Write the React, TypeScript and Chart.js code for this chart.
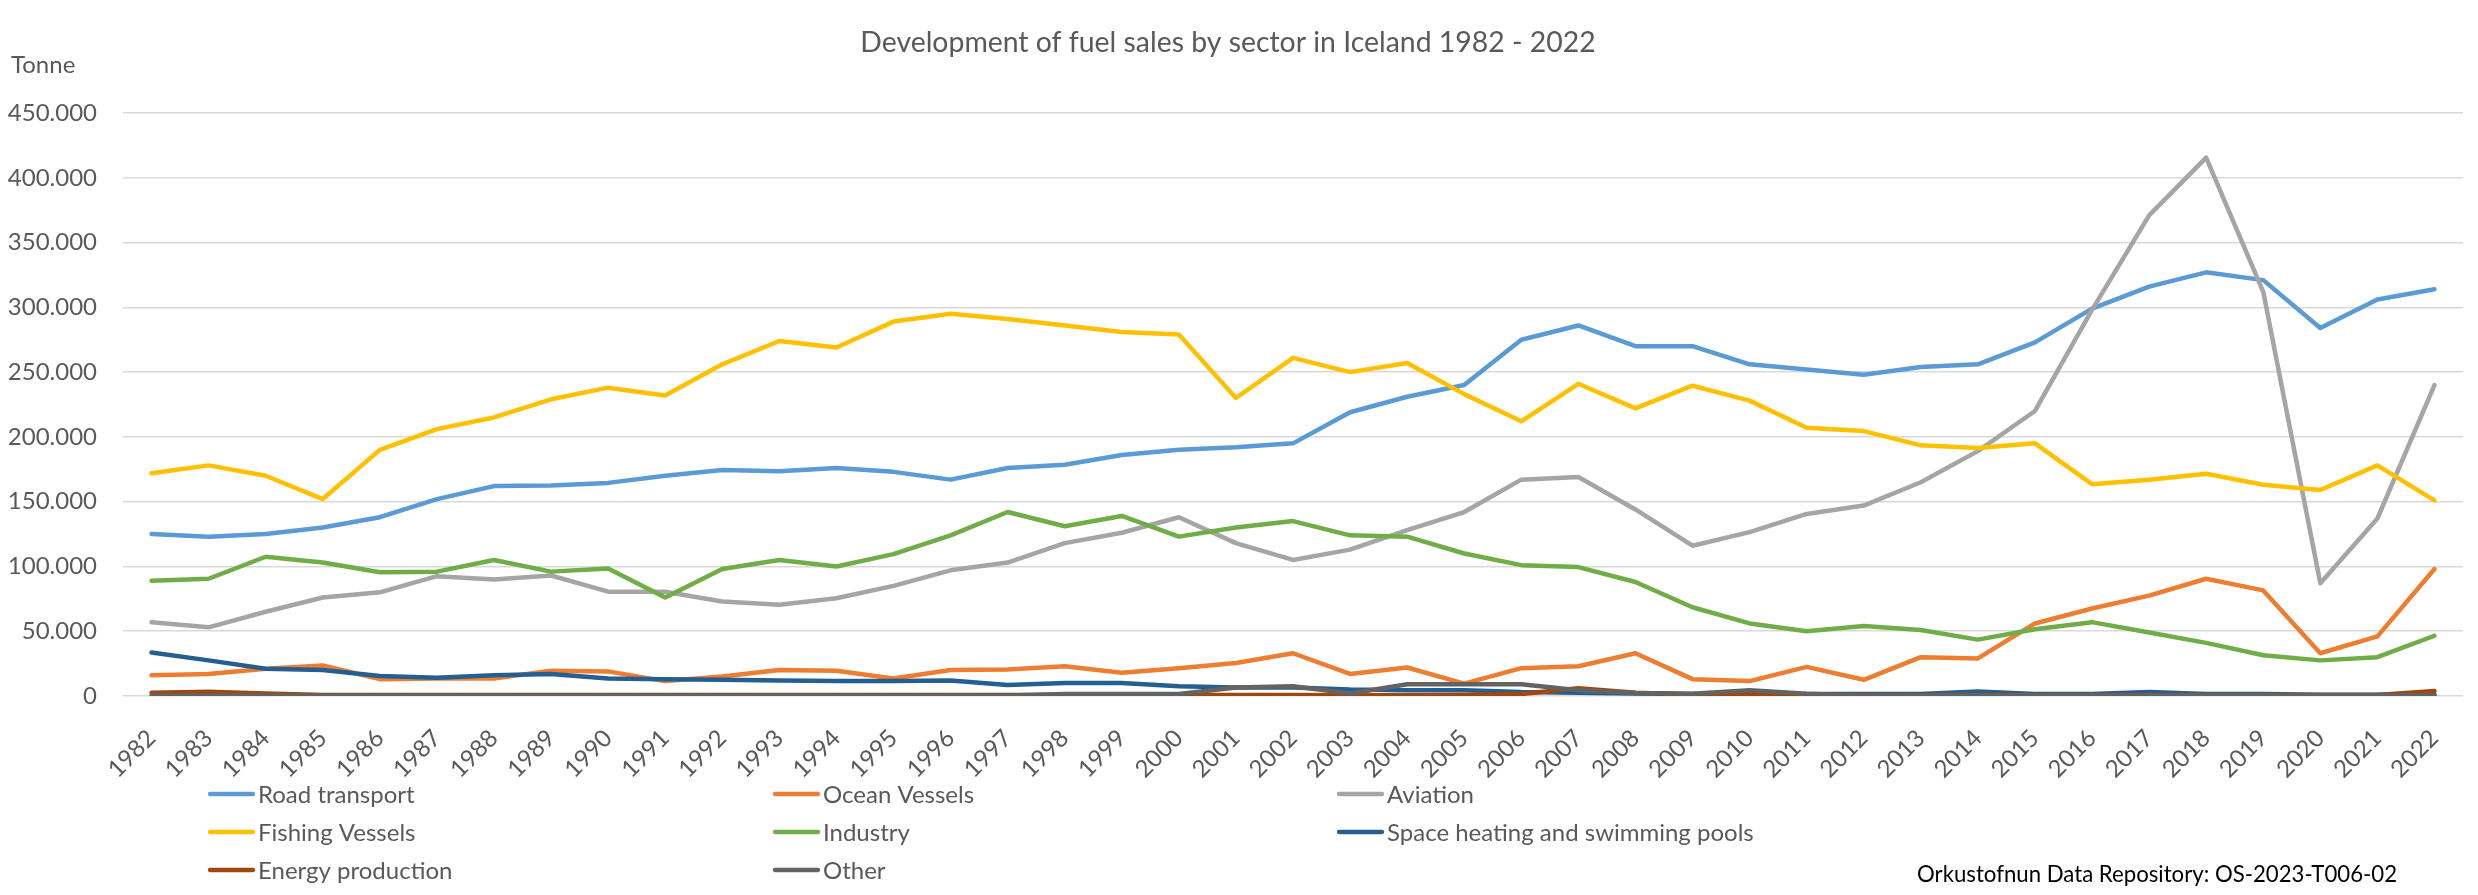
import React, { useEffect, useRef } from 'react';
import { Chart, registerables } from 'chart.js';

Chart.register(...registerables);

const years = [
  '1982', '1983', '1984', '1985', '1986', '1987', '1988', '1989', '1990', '1991',
  '1992', '1993', '1994', '1995', '1996', '1997', '1998', '1999', '2000', '2001',
  '2002', '2003', '2004', '2005', '2006', '2007', '2008', '2009', '2010', '2011',
  '2012', '2013', '2014', '2015', '2016', '2017', '2018', '2019', '2020', '2021', '2022',
];

const roadTransport = [
  125000, 123000, 125000, 130000, 138000, 152000, 162000, 162500, 164500, 170000,
  174500, 173500, 176000, 173000, 167000, 176000, 178500, 186000, 190000, 192000,
  195000, 219000, 231000, 240000, 275000, 286000, 270000, 270000, 256000, 252000,
  248000, 254000, 256000, 273000, 299000, 316000, 327000, 321000, 284000, 306000, 314000,
];
const oceanVessels = [
  16000, 17000, 21000, 23500, 13000, 13500, 13500, 19500, 19000, 11500,
  15000, 20000, 19500, 13500, 20000, 20500, 23000, 18000, 21500, 25500,
  33000, 17000, 22000, 9500, 21500, 23000, 33000, 13000, 11500, 22500,
  12500, 30000, 29000, 56000, 67500, 77500, 90500, 81500, 33000, 46000, 98000,
];
const aviation = [
  57000, 53000, 65000, 76000, 80000, 92500, 90000, 93000, 80500, 80500,
  73000, 70500, 75500, 85000, 97000, 103000, 118000, 126000, 138000, 118000,
  105000, 113000, 128000, 142000, 167000, 169000, 144000, 116000, 126500, 140500,
  147000, 165000, 189000, 220000, 298000, 371000, 415500, 312000, 87000, 137000, 240000,
];
const fishingVessels = [
  172000, 178000, 170000, 152000, 190000, 206000, 215000, 229000, 238000, 232000,
  256000, 274000, 269000, 289000, 295000, 291000, 286000, 281000, 279000, 230000,
  261000, 250000, 257000, 233000, 212000, 241000, 222000, 239500, 228000, 207000,
  204500, 193500, 191500, 195000, 163500, 167000, 171500, 163000, 159000, 178000, 151000,
];
const industry = [
  89000, 90500, 107500, 103000, 95500, 96000, 105000, 96000, 98500, 76000,
  98000, 105000, 100000, 109500, 124000, 142000, 131000, 139000, 123000, 130000,
  135000, 124000, 123000, 110000, 101000, 99500, 88000, 68500, 56000, 50000,
  54000, 51000, 43500, 51500, 57000, 49000, 41000, 31500, 27500, 30000, 46500,
];
const spaceHeating = [
  33500, 27500, 21000, 20000, 15500, 14000, 16000, 17000, 13500, 13000,
  12500, 12000, 11500, 11500, 12000, 8500, 10000, 10000, 7500, 6500,
  6500, 5000, 4500, 4500, 3000, 2500, 2000, 1500, 1500, 1500,
  1500, 1500, 3500, 1500, 1500, 3000, 1500, 1500, 1000, 1000, 1000,
];
const energyProduction = [
  2500, 3300, 2000, 800, 700, 700, 800, 800, 800, 800,
  700, 700, 700, 700, 700, 700, 700, 700, 700, 800,
  800, 600, 600, 800, 1500, 6000, 2500, 1200, 1000, 800,
  800, 800, 700, 700, 700, 800, 800, 800, 800, 800, 3800,
];
const other = [
  300, 300, 300, 300, 300, 300, 300, 300, 300, 300,
  300, 300, 300, 300, 300, 300, 1500, 1500, 1500, 6500,
  7500, 2000, 9000, 9000, 9000, 4500, 2300, 1800, 4400, 1800,
  300, 500, 500, 500, 500, 500, 500, 500, 500, 500, 500,
];

const seriesNames = [
  'Road transport', 'Ocean Vessels', 'Aviation', 'Fishing Vessels',
  'Industry', 'Space heating and swimming pools', 'Energy production', 'Other',
];
const seriesColors = [
  '#5B9BD5', '#ED7D31', '#A5A5A5', '#FFC000',
  '#70AD47', '#255E91', '#9E480E', '#636363',
];
const seriesValues = [
  roadTransport, oceanVessels, aviation, fishingVessels,
  industry, spaceHeating, energyProduction, other,
];

const titleText = 'Development of fuel sales by sector in Iceland 1982 - 2022';
const unitText = 'Tonne';
const sourceText = 'Orkustofnun Data Repository: OS-2023-T006-02';

const FONT = 'Lato, "Open Sans", sans-serif';
const TEXT_GREY = '#595959';

const fmt = (v: number) => String(Math.round(v)).replace(/\B(?=(\d{3})+(?!\d))/g, '.');

const overlayPlugin = {
  id: 'overlay',
  afterDraw(chart: any) {
    const ctx = chart.ctx;
    ctx.save();
    // Title
    ctx.fillStyle = TEXT_GREY;
    ctx.font = `28.4px ${FONT}`;
    ctx.textAlign = 'center';
    ctx.textBaseline = 'alphabetic';
    ctx.fillText(titleText, 1228, 52);
    // Unit
    ctx.font = `24px ${FONT}`;
    ctx.textAlign = 'left';
    ctx.fillText(unitText, 11, 73);
    // Legend
    const colX = [208, 773, 1337];
    const rowY = [794, 832, 870];
    ctx.font = `24px ${FONT}`;
    ctx.textBaseline = 'middle';
    seriesNames.forEach((name, i) => {
      const cx = colX[i % 3];
      const cy = rowY[Math.floor(i / 3)];
      ctx.strokeStyle = seriesColors[i];
      ctx.lineWidth = 4.3;
      ctx.lineCap = 'round';
      ctx.beginPath();
      ctx.moveTo(cx + 2, cy);
      ctx.lineTo(cx + 45, cy);
      ctx.stroke();
      ctx.fillStyle = TEXT_GREY;
      ctx.fillText(name, cx + 50, cy + 1);
    });
    // Source
    ctx.fillStyle = '#000000';
    ctx.font = `22.2px ${FONT}`;
    ctx.textAlign = 'right';
    ctx.textBaseline = 'alphabetic';
    ctx.fillText(sourceText, 2397, 882);
    ctx.restore();
  },
};

export default function App() {
  const canvasRef = useRef<HTMLCanvasElement | null>(null);

  useEffect(() => {
    document.body.style.margin = '0';
    const canvas = canvasRef.current;
    if (!canvas) return;
    const chart = new Chart(canvas, {
      type: 'line',
      data: {
        labels: years,
        datasets: seriesNames.map((name, i) => ({
          label: name,
          data: seriesValues[i],
          borderColor: seriesColors[i],
          backgroundColor: seriesColors[i],
          borderWidth: 4.5,
          pointRadius: 0,
          pointHoverRadius: 0,
          tension: 0,
          fill: false,
          borderJoinStyle: 'round' as const,
          borderCapStyle: 'round' as const,
          order: seriesNames.length - i,
        })),
      },
      options: {
        responsive: false,
        maintainAspectRatio: false,
        devicePixelRatio: 1,
        animation: false,
        layout: { padding: { left: 0, right: 15, top: 113, bottom: 95 } },
        plugins: {
          legend: { display: false },
          title: { display: false },
          tooltip: { enabled: false },
        },
        scales: {
          x: {
            type: 'category',
            offset: true,
            grid: { display: false },
            border: { display: false },
            ticks: {
              autoSkip: false,
              minRotation: 45,
              maxRotation: 45,
              padding: 20,
              color: TEXT_GREY,
              font: { family: FONT, size: 24 },
            },
            afterFit: (scale: any) => { scale.height = 104; },
          },
          y: {
            min: 0,
            max: 450000,
            grid: { color: '#D9D9D9', lineWidth: 1.5, drawTicks: false },
            border: { display: false },
            ticks: {
              stepSize: 50000,
              padding: 26,
              color: TEXT_GREY,
              font: { family: FONT, size: 24 },
              callback: (v: any) => fmt(Number(v)),
            },
            afterFit: (scale: any) => { scale.width = 123; },
          },
        },
      },
      plugins: [overlayPlugin],
    });
    return () => chart.destroy();
  }, []);

  return (
    <div style={{ width: 2478, height: 895, position: 'relative', background: '#ffffff' }}>
      <canvas ref={canvasRef} width={2478} height={895} style={{ display: 'block' }} />
    </div>
  );
}
